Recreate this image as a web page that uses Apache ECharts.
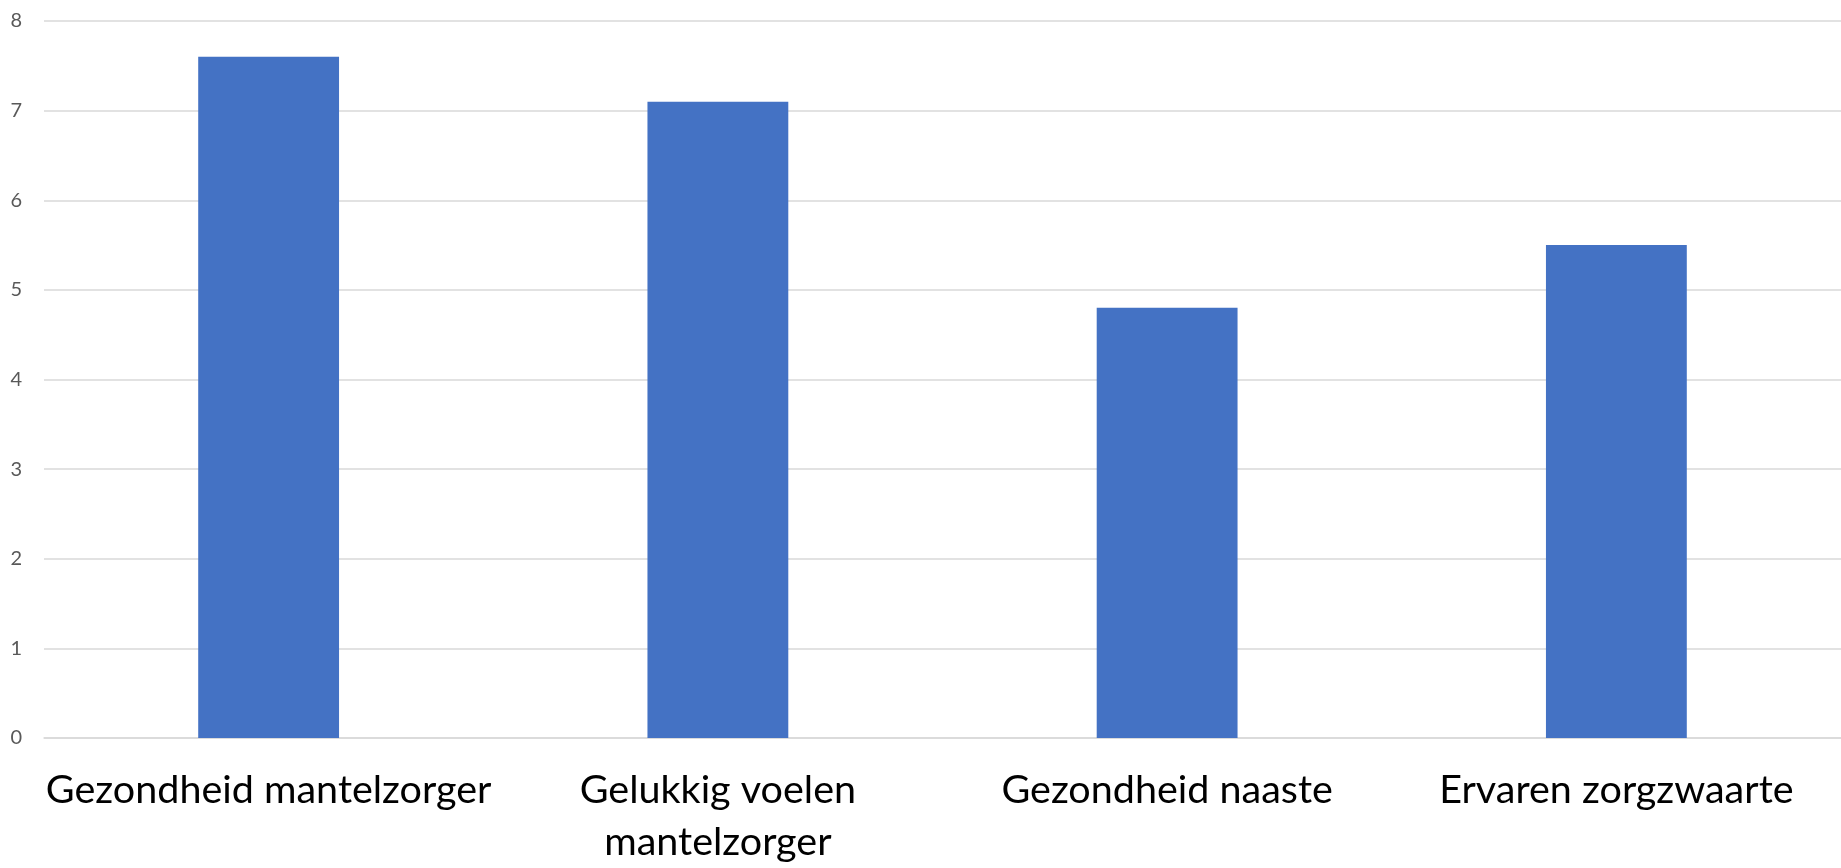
<!DOCTYPE html>
<html><head><meta charset="utf-8">
<script src="https://cdn.jsdelivr.net/npm/echarts@6/dist/echarts.min.js"></script>
<style>html,body{margin:0;padding:0;background:#fff;overflow:hidden}#c{width:1841px;height:868px}</style>
</head><body><div id="c"></div>
<script>
const categories = ["Gezondheid mantelzorger", "Gelukkig voelen mantelzorger", "Gezondheid naaste", "Ervaren zorgzwaarte"];
const values = [7.6, 7.1, 4.8, 5.5];
const yTicks = [0, 1, 2, 3, 4, 5, 6, 7, 8];

function wrap(s) {
  const words = s.split(' ');
  const lines = [];
  let cur = '';
  words.forEach(w => {
    const t = cur ? cur + ' ' + w : w;
    if (t.length > 24 && cur) { lines.push(cur); cur = w; } else cur = t;
  });
  lines.push(cur);
  return lines.join('\n');
}

const chart = echarts.init(document.getElementById('c'));
chart.setOption({
  animation: false,
  grid: { left: 44, width: 1805, top: 21, height: 720, containLabel: false },
  xAxis: {
    type: 'category',
    data: categories,
    axisLine: { show: true, lineStyle: { color: '#d9d9d9', width: 1.5 } },
    axisTick: { show: false },
    axisLabel: {
      interval: 0, margin: 26, color: '#000', fontFamily: 'Lato', fontSize: 39.5,
      lineHeight: 52, formatter: wrap
    }
  },
  yAxis: {
    type: 'value',
    min: yTicks[0], max: yTicks[yTicks.length - 1], interval: 1,
    axisLine: { show: false },
    axisTick: { show: false },
    splitLine: { lineStyle: { color: '#d9d9d9', width: 1.5 } },
    axisLabel: { margin: 22, color: '#595959', fontFamily: 'Lato', fontSize: 20 }
  },
  series: [{
    type: 'bar',
    data: values,
    barWidth: '31.35%',
    itemStyle: { color: '#4472C4' }
  }]
});
</script></body></html>
